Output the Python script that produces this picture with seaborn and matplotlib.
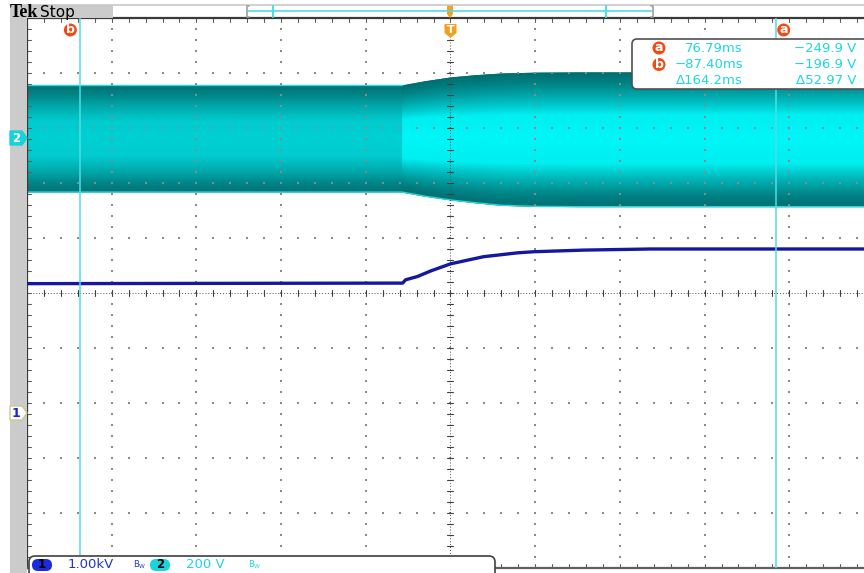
import numpy as np
import pandas as pd
import matplotlib
matplotlib.use("Agg")
import matplotlib.pyplot as plt
import seaborn as sns
from matplotlib.patches import FancyBboxPatch, Rectangle, Circle, Polygon
from matplotlib.colors import LinearSegmentedColormap

# ---- acquisition settings -------------------------------------------------
time_per_div_ms = 20.0
ch1_kv_per_div = 1.0
ch2_v_per_div = 200.0
ch1_offset_div = -2.18
ch2_offset_div = 2.82

# ---- channel 1: DC level (kV) ---------------------------------------------
ch1_time_ms = [-100, -11.3, -10.6, -7.8, -4.7, 0.0, 7.8, 15.8, 19.6, 31.4, 47.2, 100]
ch1_kv = [2.35, 2.36, 2.42, 2.48, 2.58, 2.71, 2.84, 2.91, 2.93, 2.96, 2.98, 2.98]

# ---- channel 2: AC envelope (V) --------------------------------------------
ch2_time_ms = [-100, -11.5, -6, 0, 6, 12, 20, 30, 100]
ch2_pos_peak_v = [192.7, 192.7, 208, 221.8, 230, 236, 239, 240, 240]
ch2_neg_peak_v = [-196.9, -196.9, -212, -225.5, -236, -245, -249, -249.9, -249.9]
ch2_step_ms = -11.5

# ---- cursors ----------------------------------------------------------------
cursor_a_ms, cursor_b_ms = 76.79, -87.40
cursor_a_v, cursor_b_v = -249.90, -196.93

# ---- layout (pixels) ---------------------------------------------------------
W, H = 864, 573
plot_left, plot_right = 27, 874
plot_top, plot_bottom = 18, 568

sns.set_theme(style="white")
plt.rcParams["font.family"] = ["DejaVu Sans"]

fig = plt.figure(figsize=(W / 100, H / 100), dpi=100)
fig.patch.set_facecolor("white")
ax = fig.add_axes([plot_left / W, 1 - plot_bottom / H,
                   (plot_right - plot_left) / W, (plot_bottom - plot_top) / H])
ax.set_xlim(-5 * time_per_div_ms, 5 * time_per_div_ms)
ax.set_ylim(-5, 5)
ax.set_facecolor("white")

t2 = np.array(ch2_time_ms, float)
up_div = ch2_offset_div + np.array(ch2_pos_peak_v) / ch2_v_per_div
lo_div = ch2_offset_div + np.array(ch2_neg_peak_v) / ch2_v_per_div

# intensity-graded persistence: dark at the peaks, bright around the centre
left_cmap = LinearSegmentedColormap.from_list(
    "ch2_left", [(0.0, "#00D0D3"), (0.35, "#00CACD"), (0.65, "#00A4A7"),
                 (0.85, "#008386"), (1.0, "#007275")])
right_cmap = LinearSegmentedColormap.from_list(
    "ch2_right", [(0.0, "#00F6F8"), (0.38, "#00EEF0"), (0.5, "#00CDD0"),
                  (0.7, "#00A0A3"), (0.85, "#008285"), (1.0, "#006F72")])
fracs = np.linspace(1.0, 0.0, 30)[:-1]
right_mask = t2 >= ch2_step_ms
for f in fracs:
    c = ch2_offset_div
    ax.fill_between(t2, c + f * (up_div - c), c + f * (lo_div - c),
                    color=left_cmap(f), lw=0, zorder=1)
for f in fracs:
    c = ch2_offset_div
    ax.fill_between(t2[right_mask], c + f * (up_div[right_mask] - c),
                    c + f * (lo_div[right_mask] - c),
                    color=right_cmap(f), lw=0, zorder=1.1)

edge_df = pd.DataFrame({"t": t2, "up": up_div, "lo": lo_div})
sns.lineplot(data=edge_df[edge_df.t <= ch2_step_ms], x="t", y="up", ax=ax,
             color="#27D9DD", lw=1.0, zorder=1.5)
sns.lineplot(data=edge_df, x="t", y="lo", ax=ax, color="#27D9DD", lw=1.0, zorder=1.5)

# ---- graticule -------------------------------------------------------------
maj_x = np.arange(-100, 101, time_per_div_ms)
min_x = np.arange(-100, 100.1, time_per_div_ms / 5)
maj_y = np.arange(-5, 6, 1.0)
min_y = np.arange(-5, 5.01, 0.2)
dot_c = "#8A8A8A"
for x in maj_x[1:-1]:
    if x == 0:
        continue
    ax.scatter(np.full(min_y.size, x), min_y, s=1.6, marker="s", color=dot_c, lw=0, zorder=2)
for y in maj_y[1:-1]:
    if y == 0:
        continue
    ax.scatter(min_x, np.full(min_x.size, y), s=1.6, marker="s", color=dot_c, lw=0, zorder=2)
# centre cross with ticks
ax.axvline(0, color="#505050", lw=0.7, ls=(0, (1, 2)), zorder=2)
ax.axhline(0, color="#505050", lw=0.7, ls=(0, (1, 2)), zorder=2)
tx = 3 / 84.7 * time_per_div_ms
ty = 3 / 55
for y in min_y[1:-1]:
    ax.plot([-tx, tx], [y, y], color="#404040", lw=0.8, zorder=2)
for x in min_x[1:-1]:
    ax.plot([x, x], [-ty, ty], color="#404040", lw=0.8, zorder=2)
# border ticks
for x in min_x[1:]:
    ax.plot([x, x], [5, 5 - 1.3 * ty], color="#606060", lw=0.8, zorder=2)
    ax.plot([x, x], [-5, -5 + 1.3 * ty], color="#606060", lw=0.8, zorder=2)
for y in min_y[1:-1]:
    ax.plot([-100, -100 + 1.3 * tx], [y, y], color="#606060", lw=0.8, zorder=2)

# ---- channel 1 trace -------------------------------------------------------
ch1_df = pd.DataFrame({"t": ch1_time_ms,
                       "y": ch1_offset_div + np.array(ch1_kv) / ch1_kv_per_div})
sns.lineplot(data=ch1_df, x="t", y="y", ax=ax, color="#1418A0", lw=2.4, zorder=3)

# ---- cursors ---------------------------------------------------------------
for cx in (cursor_a_ms, cursor_b_ms):
    ax.axvline(cx, color="#4FDDE4", lw=1.1, zorder=4)

ax.set_xlabel("")
ax.set_ylabel("")
ax.set_xticks([])
ax.set_yticks([])
ax.spines["right"].set_visible(False)
for side, col in (("left", "#3A3A3A"), ("top", "#3A3A3A"), ("bottom", "#606060")):
    ax.spines[side].set_color(col)
    ax.spines[side].set_linewidth(1.6)


def x_px(t_ms):
    return plot_left + (t_ms + 5 * time_per_div_ms) / (10 * time_per_div_ms) * (plot_right - plot_left)


# ---- screen furniture (pixel coordinates) ----------------------------------
ui = fig.add_axes([0, 0, 1, 1], zorder=10)
ui.set_xlim(0, W)
ui.set_ylim(H, 0)
ui.axis("off")
ui.patch.set_alpha(0)

gray = "#CBCBCB"
ui.add_patch(Rectangle((10, 5), 17, H - 5, color=gray, lw=0))
ui.add_patch(Rectangle((10, 5), 103, 13, color=gray, lw=0))
ui.plot([10, W], [5, 5], color="#C8C8C8", lw=1.2)
ui.text(9.5, 12.5, "Tek", fontsize=13, fontweight="bold", family="Liberation Serif",
        va="center", ha="left", color="black")
ui.text(40, 12, "Stop", fontsize=11, va="center", ha="left", color="black")

# record view bar
ui.plot([248, 652], [11, 11], color="#4FDDE4", lw=1.2)
for bx, d in ((247, 1), (653, -1)):
    ui.plot([bx + 2 * d, bx, bx, bx + 2 * d], [6, 6, 17, 17], color="#A0A0A0", lw=1.2)
for vx in (273, 606):
    ui.plot([vx, vx], [6, 17], color="#4FDDE4", lw=1.5)
trig = "#F2A020"
ui.add_patch(Polygon([[447, 5], [453, 5], [453, 14], [450, 18], [447, 14]],
                     closed=True, color=trig, lw=0))
tx0 = x_px(0)
ui.add_patch(Polygon([[tx0 - 6, 24], [tx0 + 6, 24], [tx0 + 6, 33], [tx0, 38], [tx0 - 6, 33]],
                     closed=True, color=trig, lw=0))
ui.text(tx0, 30, "T", fontsize=8, fontweight="bold", color="white", ha="center", va="center")

# cursor badges
badge = "#F24A12"
for cx, lab in ((cursor_b_ms, "b"), (cursor_a_ms, "a")):
    px = x_px(cx) - (10 if lab == "b" else -8)
    ui.add_patch(Circle((px, 30), 6.5, color=badge, lw=0))
    ui.text(px, 29.5, lab, fontsize=9, fontweight="bold", color="white", ha="center", va="center")

# channel markers
ui.add_patch(Polygon([[10, 131], [22, 131], [27, 138], [22, 145], [10, 145]],
                     closed=True, facecolor="#14D4DA", edgecolor="#14D4DA", lw=1))
ui.text(16, 138.5, "2", fontsize=8.5, color="white", ha="center", va="center", fontweight="bold")
ui.add_patch(Polygon([[10, 406], [22, 406], [27, 413], [22, 420], [10, 420]],
                     closed=True, facecolor="white", edgecolor="#C8C890", lw=1))
ui.text(16, 413.5, "1", fontsize=9, color="#1428D0", ha="center", va="center", fontweight="bold")

# cursor readout box
ui.add_patch(FancyBboxPatch((632, 39), 250, 50, boxstyle="round,pad=0,rounding_size=5",
                            facecolor="white", edgecolor="#505050", lw=1.2))
cyan_txt = "#1ED6DE"
rows = [("a", f"{cursor_a_ms:.2f}ms", f"\u2212{abs(cursor_a_v):.1f} V"),
        ("b", f"\u2212{abs(cursor_b_ms):.2f}ms", f"\u2212{abs(cursor_b_v):.1f} V"),
        (None, f"\u0394{cursor_a_ms - cursor_b_ms:.1f}ms",
         f"\u0394{abs(cursor_a_v - cursor_b_v):.2f} V")]
for i, (lab, tstr, vstr) in enumerate(rows):
    yy = 48 + i * 16.5
    if lab:
        ui.add_patch(Circle((659, yy), 6.5, color=badge, lw=0))
        ui.text(659, yy - 0.5, lab, fontsize=9, fontweight="bold", color="white",
                ha="center", va="center")
    ui.text(743, yy, tstr, fontsize=9.5, color=cyan_txt, ha="right", va="center")
    ui.text(856, yy, vstr, fontsize=9.5, color=cyan_txt, ha="right", va="center")

# channel scale box
ui.add_patch(FancyBboxPatch((29, 556), 466, 30, boxstyle="round,pad=0,rounding_size=6",
                            facecolor="white", edgecolor="#404040", lw=1.2))
ui.add_patch(FancyBboxPatch((32, 559), 20, 12, boxstyle="round,pad=0,rounding_size=6",
                            facecolor="#1A2ADD", edgecolor="none"))
ui.text(42, 565, "1", fontsize=8.5, fontweight="bold", color="black", ha="center", va="center")
ui.text(68, 565, f"{ch1_kv_per_div:.2f}kV", fontsize=9.5, color="#2036C8", ha="left", va="center")
ui.text(133, 565, r"$\mathregular{B_W}$", fontsize=6, color="#2036C8", ha="left", va="center")
ui.add_patch(FancyBboxPatch((150, 559), 20, 12, boxstyle="round,pad=0,rounding_size=6",
                            facecolor="#18D6DC", edgecolor="none"))
ui.text(160, 565, "2", fontsize=8.5, fontweight="bold", color="black", ha="center", va="center")
ui.text(186, 565, f"{ch2_v_per_div:.0f} V", fontsize=9.5, color=cyan_txt, ha="left", va="center")
ui.text(248, 565, r"$\mathregular{B_W}$", fontsize=6, color=cyan_txt, ha="left", va="center")

fig.savefig("out.png", dpi=100)
